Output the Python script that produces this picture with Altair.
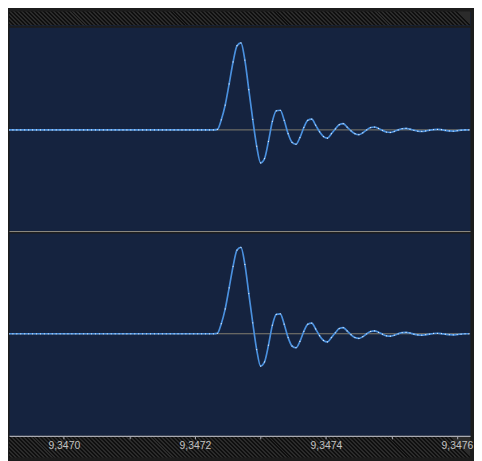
import altair as alt
import pandas as pd

# sampling of the two traces (time axis)
t_start = 9.34691635
t_step = 0.000006

# channel 1 samples (flat part = 0)
ch1 = [0.0] * 53 + [
    0.5, 10.5, 26, 48, 71, 88, 91, 73, 42, 11,
    -17, -34.5, -30, -12, 9, 20, 20.5, 10, -4, -13,
    -15, -8, 2.5, 10, 11.3, 5, -2, -7, -8.6, -4,
    1, 5.5, 6.5, 3, -1, -4, -5, -3, 0, 2.5,
    3, 1.5, -0.5, -2.2, -2.6, -1.5, 0, 1.2, 1.5, 0.8,
    -0.4, -1.3, -1.6, -1.1, -0.3, 0.3, 0.5, 0.2, -0.5, -1.1,
    -1.2, -0.8, -0.3, 0, 0,
]

# channel 2 samples
ch2 = [0.0] * 53 + [
    0.5, 10.5, 26, 48, 70.5, 87.5, 90.3, 72.5, 42, 11.5,
    -16.5, -33.8, -29.5, -12, 9, 20.3, 20.8, 10, -4, -12.8,
    -14.6, -8, 2.5, 10, 11.2, 5, -2, -7, -8.5, -4,
    1, 5.4, 6.4, 3, -1, -4, -4.9, -3, 0, 2.4,
    3, 1.5, -0.5, -2.2, -2.5, -1.5, 0, 1.2, 1.4, 0.8,
    -0.4, -1.2, -1.5, -1.0, -0.3, 0.3, 0.5, 0.2, -0.5, -1.0,
    -1.1, -0.8, -0.3, 0, 0,
]

tick_values = [9.3470, 9.3471, 9.3472, 9.3473, 9.3474, 9.3475, 9.3476]
x_domain = [9.34691635, 9.34762]
y_domain_1 = [-105.7, 107.3]
y_domain_2 = [-106.7, 105.3]

W = 466
H1 = 206
H2 = 205
TOPBAR = 14
AXIS_STRIP = 22


def hatch(width, height, period=4.0, c1="#0f0f0f", c2="#2b2b2b"):
    n = int(width / period) + 2
    p = 1.0 / (width / period)
    stops = []
    for i in range(n):
        a = i * p
        b = a + p / 2
        c = a + p
        if a > 1:
            break
        stops.append(alt.GradientStop(offset=min(a, 1), color=c1))
        stops.append(alt.GradientStop(offset=min(b, 1), color=c1))
        stops.append(alt.GradientStop(offset=min(b, 1), color=c2))
        stops.append(alt.GradientStop(offset=min(c, 1), color=c2))
    return alt.Gradient(gradient="linear", stops=stops,
                        x1=0, y1=1, x2=1, y2=1 - height / width)


one = pd.DataFrame({"a": [0]})


def panel(vals, ydom, height, bottom):
    df = pd.DataFrame({
        "t": [t_start + i * t_step for i in range(len(vals))],
        "v": vals,
    })
    if bottom:
        x_axis = alt.Axis(
            values=tick_values,
            labelExpr="(round(datum.value*10000) % 2 == 0) ? replace(format(datum.value, '.4f'), '.', ',') : ''",
            grid=False, title=None,
            domainColor="#a9aab2", domainWidth=1.2,
            tickColor="#a9aab2", tickSize=3, tickWidth=1,
            labelColor="#c2c2c2", labelFont="Liberation Sans", labelFontSize=10.5,
            labelPadding=2, labelFlush=False, labelOverlap=False, zindex=2,
        )
    else:
        x_axis = alt.Axis(
            labels=False, ticks=False, grid=False, title=None,
            domainColor="#8e8c84", domainWidth=1, zindex=2,
        )
    xs = alt.Scale(domain=x_domain, nice=False, zero=False)
    ys = alt.Scale(domain=ydom, nice=False, zero=False)
    zero = alt.Chart(pd.DataFrame({"v": [0.0]})).mark_rule(
        color="#857f70", strokeWidth=1
    ).encode(y=alt.Y("v:Q", scale=ys, axis=None))
    base = alt.Chart(df).encode(
        x=alt.X("t:Q", scale=xs, axis=x_axis),
        y=alt.Y("v:Q", scale=ys, axis=None),
    )
    line = base.mark_line(color="#4a90de", strokeWidth=1.7, clip=True,
                          interpolate="monotone")
    dots = base.mark_circle(color="white", size=1.6, opacity=0.85, clip=True)
    layers = [zero, line, dots]
    if bottom:
        strip = alt.Chart(one).mark_rect(
            color=hatch(W, AXIS_STRIP), clip=False
        ).encode(x=alt.value(0), x2=alt.value(W),
                 y=alt.value(height), y2=alt.value(height + AXIS_STRIP))
        layers = [strip] + layers
    return alt.layer(*layers).properties(width=W, height=height)


topbar = alt.Chart(one).mark_rect(color=hatch(W, TOPBAR)).encode(
    x=alt.value(0), x2=alt.value(W), y=alt.value(0), y2=alt.value(TOPBAR)
).properties(width=W, height=TOPBAR)

top = panel(ch1, y_domain_1, H1, False)
bottom = panel(ch2, y_domain_2, H2, True)

chart = alt.vconcat(topbar, top, bottom, spacing=0).configure(
    background="#1c1c1c",
    padding={"top": 0, "left": 0, "right": 0, "bottom": 0},
).configure_view(
    fill="#15233f", stroke="transparent"
).configure_concat(spacing=0)

chart.save("out.html", embed_options={"renderer": "svg", "actions": False})
